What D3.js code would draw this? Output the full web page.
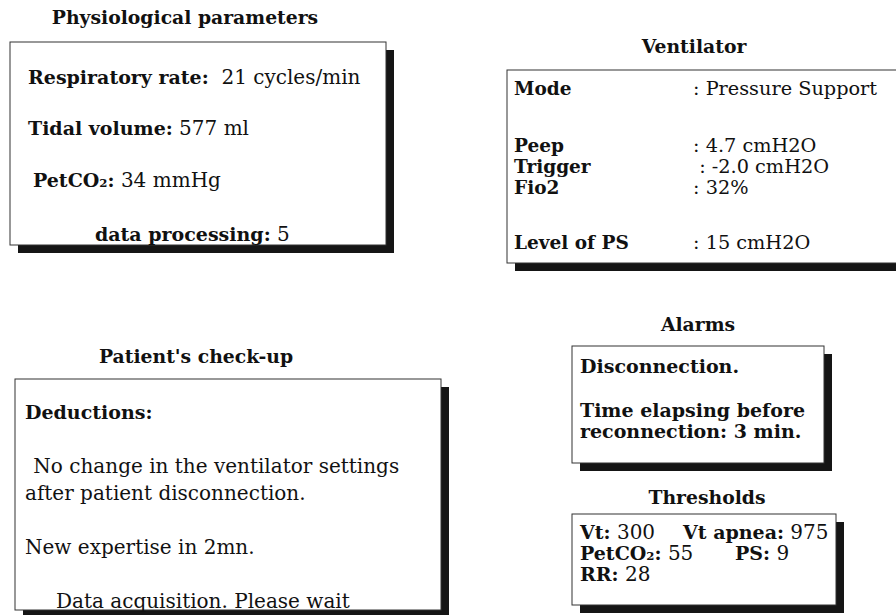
<!DOCTYPE html>
<html>
<head>
<meta charset="utf-8">
<script src="https://cdn.jsdelivr.net/npm/d3@7"></script>
<style>
  html, body { margin: 0; padding: 0; background: #fff; }
  svg { display: block; }
  text { font-family: "DejaVu Serif", "Liberation Serif", serif; fill: #111; }
</style>
</head>
<body>
<div id="chart"></div>
<script>
// ---- data ----
const panelTitles = ["Physiological parameters", "Ventilator", "Patient's check-up", "Alarms", "Thresholds"];

const physioLabels = ["Respiratory rate:", "Tidal volume:", "PetCO2:", "data processing:"];
const physioValues = ["21 cycles/min", "577 ml", "34 mmHg", "5"];

const ventLabels = ["Mode", "Peep", "Trigger", "Fio2", "Level of PS"];
const ventValues = [": Pressure Support", ": 4.7 cmH2O", " : -2.0 cmH2O", ": 32%", ": 15 cmH2O"];

const checkupHeading = "Deductions:";
const checkupLines = [" No change in the ventilator settings", "after patient disconnection.", "New expertise in 2mn.", "Data acquisition. Please wait"];

const alarmLines = ["Disconnection.", "Time elapsing before", "reconnection: 3 min."];

const thresholdLabels = ["Vt:", "Vt apnea:", "PetCO2:", "PS:", "RR:"];
const thresholdValues = ["300", "975", "55", "9", "28"];

// ---- layout ----
const W = 896, H = 615;
const FSB = 19, FSR = 20, FST = 18.8;
const svg = d3.select("#chart").append("svg").attr("width", W).attr("height", H);

const boxes = [
  {x: 10,  y: 42,  w: 376, h: 203},
  {x: 507, y: 70,  w: 420, h: 193},
  {x: 15,  y: 379, w: 426, h: 231},
  {x: 572, y: 346, w: 252, h: 117},
  {x: 572, y: 514, w: 264, h: 91}
];
const titlePos = [
  {x: 185, y: 24}, {x: 694, y: 53}, {x: 196, y: 363}, {x: 698, y: 331}, {x: 707, y: 504}
];

const sh = 8;
boxes.forEach(b => {
  svg.append("rect").attr("x", b.x + sh).attr("y", b.y + sh).attr("width", b.w).attr("height", b.h)
    .attr("fill", "#151515");
  svg.append("rect").attr("x", b.x).attr("y", b.y).attr("width", b.w).attr("height", b.h)
    .attr("fill", "#fff").attr("stroke", "#333").attr("stroke-width", 1);
});

svg.selectAll("text.title").data(panelTitles).join("text").attr("class", "title")
  .attr("x", (d, i) => titlePos[i].x).attr("y", (d, i) => titlePos[i].y)
  .attr("text-anchor", "middle").attr("font-size", FST).attr("font-weight", "bold").text(d => d);

// helper: write label (bold) + value; handle CO2 subscript
function addLabel(t, label) {
  const m = label.match(/^(.*CO)2(.*)$/);
  if (m) {
    t.append("tspan").attr("font-weight", "bold").attr("font-size", FSB).text(m[1]);
    t.append("tspan").attr("font-weight", "bold").attr("font-size", FSB * 0.62).text("2");
    t.append("tspan").attr("font-weight", "bold").attr("font-size", FSB).text(m[2]);
  } else {
    t.append("tspan").attr("font-weight", "bold").attr("font-size", FSB).text(label);
  }
}

// Physiological parameters
const physX = [28, 28, 33, 95];
const physY = d3.scaleOrdinal().domain(physioLabels).range([84, 135, 187, 241]);
physioLabels.forEach((lab, i) => {
  const t = svg.append("text").attr("x", physX[i]).attr("y", physY(lab)).style("white-space", "pre");
  addLabel(t, lab);
  t.append("tspan").attr("font-size", FSR).text((i === 0 ? "  " : " ") + physioValues[i]);
});

// Ventilator
const ventY = d3.scaleOrdinal().domain(ventLabels).range([95, 152, 173, 194, 249]);
ventLabels.forEach((lab, i) => {
  svg.append("text").attr("x", 514).attr("y", ventY(lab)).attr("font-size", 18.5)
    .attr("font-weight", "bold").text(lab);
  svg.append("text").attr("x", 693).attr("y", ventY(lab)).attr("font-size", 19.3)
    .style("white-space", "pre").text(ventValues[i]);
});

// Patient's check-up
svg.append("text").attr("x", 25).attr("y", 419).attr("font-size", FSB).attr("font-weight", "bold").text(checkupHeading);
const chkX = [27, 25, 25, 56];
const chkY = d3.scaleOrdinal().domain(checkupLines).range([473, 500, 554, 608]);
checkupLines.forEach((l, i) => {
  svg.append("text").attr("x", chkX[i]).attr("y", chkY(l)).attr("font-size", FSR)
    .style("white-space", "pre").text(l);
});

// Alarms
const alY = d3.scaleOrdinal().domain(alarmLines).range([373, 417, 438]);
alarmLines.forEach(l => {
  svg.append("text").attr("x", 580).attr("y", alY(l)).attr("font-size", FSB).attr("font-weight", "bold").text(l);
});

// Thresholds
const thX = [580, 683, 580, 735, 580];
const thY = [539, 539, 560, 560, 581];
thresholdLabels.forEach((lab, i) => {
  const t = svg.append("text").attr("x", thX[i]).attr("y", thY[i]).style("white-space", "pre");
  addLabel(t, lab);
  t.append("tspan").attr("font-size", FSR).text(" " + thresholdValues[i]);
});
</script>
</body>
</html>
